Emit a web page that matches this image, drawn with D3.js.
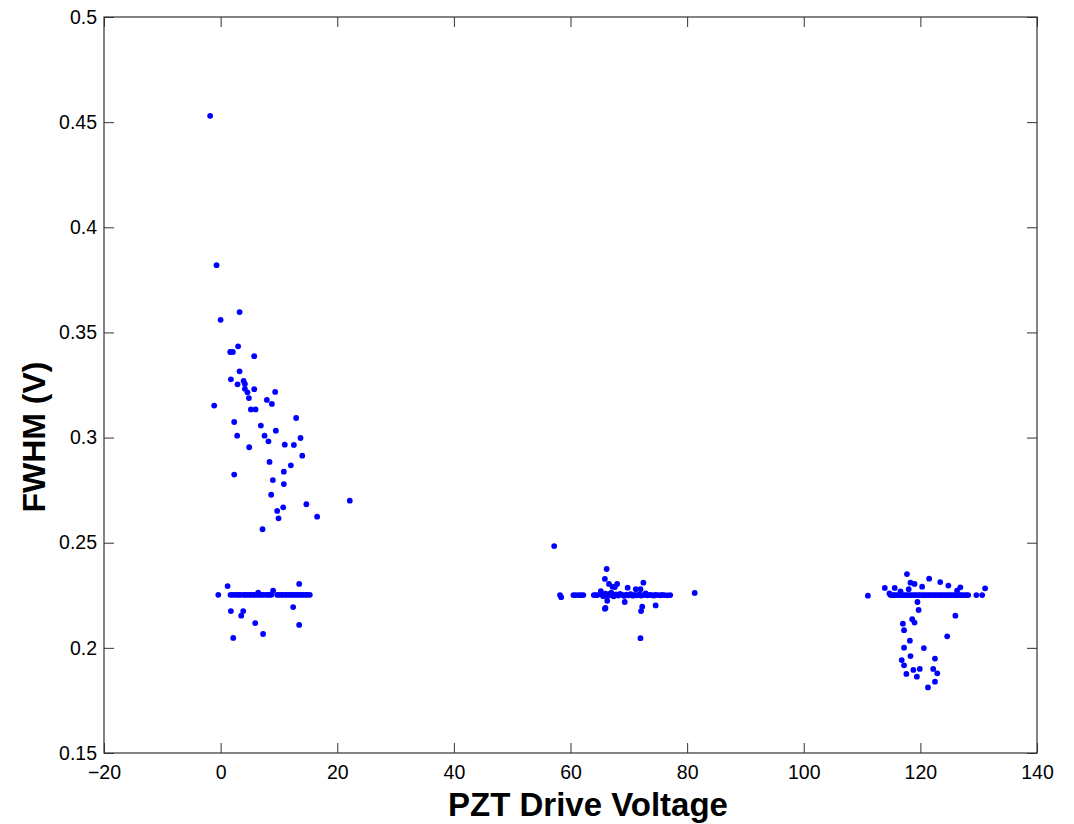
<!DOCTYPE html>
<html>
<head>
<meta charset="utf-8">
<script src="https://cdn.jsdelivr.net/npm/d3@7"></script>
<style>
  body { margin: 0; background: #fff; }
  text { font-family: "Liberation Sans", Arial, sans-serif; }
</style>
</head>
<body>
<svg id="chart" width="1074" height="824"></svg>
<script>
// scattered points near 0 V
const nearZero = [
  [-1.8, 0.453], [-0.7, 0.382], [3.25, 0.3597], [0.0, 0.356], [3.0, 0.3434],
  [1.64, 0.3407], [2.1, 0.3407], [5.76, 0.3387], [3.25, 0.3315], [1.76, 0.3277],
  [2.9, 0.3253], [3.94, 0.3269], [4.16, 0.3255], [4.16, 0.3232], [4.6, 0.3215],
  [5.76, 0.3230], [9.35, 0.3217], [4.85, 0.3188], [7.93, 0.3179], [8.79, 0.3160],
  [-1.1, 0.3152], [5.19, 0.3134], [5.99, 0.3134], [12.95, 0.3093], [2.33, 0.3074],
  [6.9, 0.3057], [9.47, 0.3033], [2.84, 0.3009], [7.53, 0.3009], [13.7, 0.2998],
  [8.2, 0.2982], [4.9, 0.2954], [11.0, 0.2966], [12.56, 0.2965], [14.0, 0.2914],
  [8.39, 0.2884], [12.04, 0.2868], [10.84, 0.2838], [2.33, 0.2824], [8.96, 0.2798],
  [10.84, 0.2779], [8.67, 0.2728], [22.15, 0.2700], [14.7, 0.2683], [10.73, 0.2668],
  [9.7, 0.2651], [16.55, 0.2624], [9.93, 0.2616], [7.19, 0.2564],
  [1.2, 0.2294], [13.47, 0.2304], [-0.4, 0.2252], [6.44, 0.2262], [9.0, 0.2272],
  [1.76, 0.2175], [3.87, 0.2175], [3.53, 0.2153], [12.44, 0.2194], [5.93, 0.2118],
  [13.47, 0.2109], [2.16, 0.2047], [7.28, 0.2066]
];
const bandZeroX = [1.7, 2.0, 2.4, 2.8, 3.1, 3.4, 3.9, 4.2, 4.5, 4.9, 5.2, 5.6, 5.9, 6.3, 6.7,
  7.0, 7.3, 7.8, 8.1, 8.4, 8.7, 9.7, 10.0, 10.4, 10.7, 11.1, 11.4, 11.8, 12.1, 12.5,
  12.8, 13.2, 13.5, 13.9, 14.2, 14.6, 14.9, 15.3];

// points near 70 V
const nearSeventy = [
  [57.2, 0.2484], [58.2, 0.2251], [58.4, 0.2241], [66.2, 0.2375], [65.9, 0.2328],
  [66.6, 0.2304], [68.0, 0.2304], [67.2, 0.2291], [67.6, 0.2289], [69.8, 0.2286],
  [71.2, 0.2279], [72.0, 0.2279], [72.5, 0.2310], [65.2, 0.2270], [66.3, 0.2224],
  [69.3, 0.2218], [65.9, 0.2186], [72.3, 0.2196], [72.1, 0.2175], [74.6, 0.2202],
  [72.0, 0.2046], [81.3, 0.2261], [72.9, 0.2259], [66.0, 0.2190], [67.0, 0.2262]
];
const bandSeventyX = [60.5, 60.9, 61.4, 61.8, 62.2, 64.0, 64.3, 64.6, 65.3, 65.6, 66.0,
  66.4, 66.7, 67.1, 67.4, 67.8, 68.2, 68.5, 68.9, 69.2, 69.6, 70.0, 70.3, 70.7, 71.0,
  71.4, 71.8, 72.1, 72.5, 72.8, 73.2, 73.6, 73.9, 74.3, 74.6, 75.0, 75.4, 75.7, 76.1,
  76.6, 77.1];
const bandSeventyY = [0.2251, 0.2251, 0.2251, 0.2251, 0.2251, 0.2251, 0.2251, 0.2251,
  0.2255, 0.2246, 0.2258, 0.2248, 0.2256, 0.2250, 0.2245, 0.2254, 0.2249, 0.2257,
  0.2252, 0.2247, 0.2253, 0.2250, 0.2255, 0.2248, 0.2252, 0.2250, 0.2254, 0.2249,
  0.2251, 0.2253, 0.2250, 0.2252, 0.2251, 0.2249, 0.2252, 0.2251, 0.2250, 0.2252,
  0.2251, 0.2250, 0.2251];

// points near 120 V
const nearOneTwenty = [
  [111.0, 0.2248], [129.6, 0.2251], [130.6, 0.2251], [131.1, 0.2283], [117.7, 0.2351],
  [121.5, 0.2329], [123.4, 0.2313], [118.3, 0.2310], [119.0, 0.2304], [124.8, 0.2296],
  [113.9, 0.2285], [115.6, 0.2285], [120.3, 0.2291], [126.85, 0.2288], [116.6, 0.2269],
  [118.0, 0.2279], [114.7, 0.2259], [126.3, 0.2272], [119.5, 0.2218], [119.7, 0.2180],
  [126.0, 0.2153], [118.6, 0.2136], [119.0, 0.2120], [117.0, 0.2115], [117.2, 0.2084],
  [124.6, 0.2055], [118.2, 0.2034], [117.2, 0.2001], [120.6, 0.1999], [118.3, 0.1961],
  [122.5, 0.1949], [116.8, 0.1942], [117.2, 0.1917], [118.8, 0.1895], [119.9, 0.1900],
  [122.2, 0.1900], [122.9, 0.1879], [117.6, 0.1876], [119.4, 0.1863], [122.5, 0.1839],
  [121.3, 0.1812]
];
const bandOneTwentyX = [114.9, 115.3, 115.6, 116.0, 116.3, 116.7, 117.1, 117.4, 117.8,
  118.1, 118.5, 118.9, 119.2, 119.6, 119.9, 120.3, 120.7, 121.0, 121.4, 121.7, 122.1,
  122.5, 122.8, 123.2, 123.5, 123.9, 124.3, 124.6, 125.0, 125.3, 125.7, 126.1, 126.4,
  126.8, 127.1, 127.5, 127.9, 128.2];

const xTicks = [-20, 0, 20, 40, 60, 80, 100, 120, 140];
const yTicks = [0.15, 0.2, 0.25, 0.3, 0.35, 0.4, 0.45, 0.5];

const plotLeft = 104, plotRight = 1037, plotTop = 17, plotBottom = 753;

const svg = d3.select("#chart");

const x = d3.scaleLinear().domain([-20, 140]).range([plotLeft, plotRight]);
const y = d3.scaleLinear().domain([0.15, 0.5]).range([plotBottom, plotTop]);

// gather all points
const points = []
  .concat(nearZero)
  .concat(bandZeroX.map(v => [v, 0.2252]))
  .concat(nearSeventy)
  .concat(bandSeventyX.map((v, i) => [v, bandSeventyY[i]]))
  .concat(nearOneTwenty)
  .concat(bandOneTwentyX.map(v => [v, 0.2251]));

// axes: ticks inside, mirrored on top/right
const axisColor = "#333";
const tickLen = 10;

svg.append("g")
  .attr("transform", `translate(0,${plotBottom})`)
  .call(d3.axisBottom(x).tickValues(xTicks).tickSizeInner(-tickLen).tickSizeOuter(0)
    .tickPadding(12).tickFormat(d => d < 0 ? "\u2212" + Math.abs(d) : d))
  .call(g => g.select(".domain").remove())
  .call(g => g.selectAll("line").attr("stroke", axisColor))
  .call(g => g.selectAll("text").attr("font-size", 19.5).attr("fill", "#000"));

svg.append("g")
  .attr("transform", `translate(0,${plotTop})`)
  .call(d3.axisTop(x).tickValues(xTicks).tickSizeInner(-tickLen).tickSizeOuter(0).tickFormat(""))
  .call(g => g.select(".domain").remove())
  .call(g => g.selectAll("line").attr("stroke", axisColor));

svg.append("g")
  .attr("transform", `translate(${plotLeft},0)`)
  .call(d3.axisLeft(y).tickValues(yTicks).tickSizeInner(-tickLen).tickSizeOuter(0)
    .tickPadding(7).tickFormat(d => String(+d.toFixed(2))))
  .call(g => g.select(".domain").remove())
  .call(g => g.selectAll("line").attr("stroke", axisColor))
  .call(g => g.selectAll("text").attr("font-size", 19.5).attr("fill", "#000"));

svg.append("g")
  .attr("transform", `translate(${plotRight},0)`)
  .call(d3.axisRight(y).tickValues(yTicks).tickSizeInner(-tickLen).tickSizeOuter(0).tickFormat(""))
  .call(g => g.select(".domain").remove())
  .call(g => g.selectAll("line").attr("stroke", axisColor));

// box
svg.append("rect")
  .attr("x", plotLeft).attr("y", plotTop)
  .attr("width", plotRight - plotLeft).attr("height", plotBottom - plotTop)
  .attr("fill", "none").attr("stroke", axisColor).attr("stroke-width", 1.2);

// data points
svg.append("g")
  .selectAll("circle")
  .data(points)
  .enter().append("circle")
  .attr("cx", d => x(d[0]))
  .attr("cy", d => y(d[1]))
  .attr("r", 2.9)
  .attr("fill", "#0000ff");

// axis titles
svg.append("text")
  .attr("x", 588).attr("y", 816)
  .attr("text-anchor", "middle")
  .attr("font-size", 33).attr("font-weight", "bold")
  .text("PZT Drive Voltage");

svg.append("text")
  .attr("transform", "translate(45,437) rotate(-90)")
  .attr("text-anchor", "middle")
  .attr("font-size", 32).attr("font-weight", "bold")
  .text("FWHM (V)");
</script>
</body>
</html>
